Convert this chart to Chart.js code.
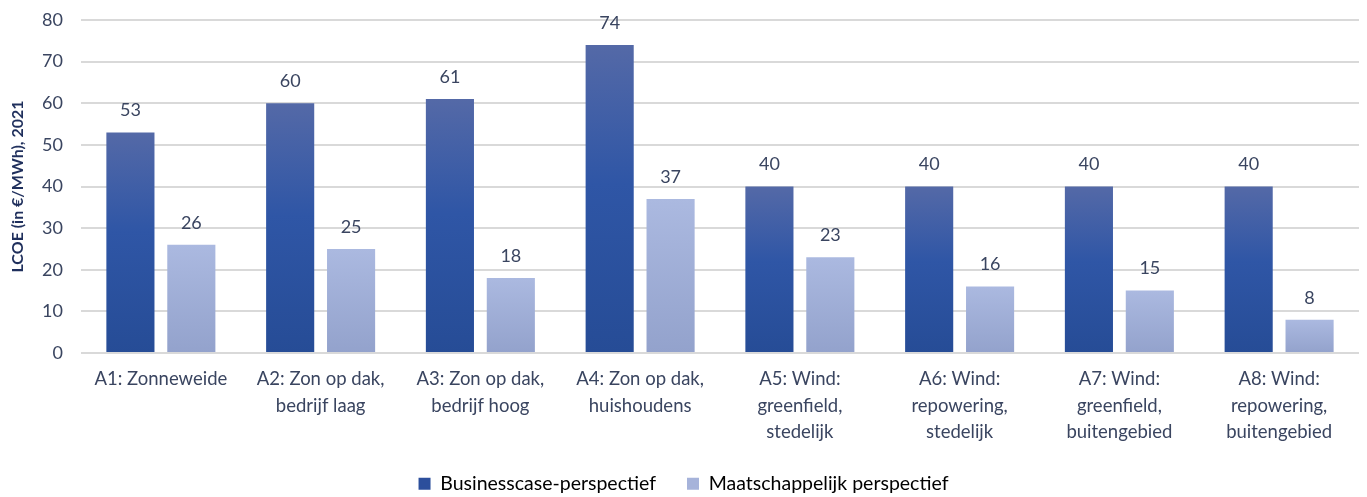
<!DOCTYPE html>
<html>
<head>
<meta charset="utf-8">
<script src="https://cdn.jsdelivr.net/npm/chart.js@4"></script>
<style>
  html, body { margin: 0; padding: 0; background: #fff; }
  #lcoe { display: block; }
</style>
</head>
<body>
<canvas id="lcoe" width="1367" height="497"></canvas>
<script>
const categories = [
  'A1: Zonneweide',
  ['A2: Zon op dak,', 'bedrijf laag'],
  ['A3: Zon op dak,', 'bedrijf hoog'],
  ['A4: Zon op dak,', 'huishoudens'],
  ['A5: Wind:', 'greenfield,', 'stedelijk'],
  ['A6: Wind:', 'repowering,', 'stedelijk'],
  ['A7: Wind:', 'greenfield,', 'buitengebied'],
  ['A8: Wind:', 'repowering,', 'buitengebied']
];
const businesscase = [53, 60, 61, 74, 40, 40, 40, 40];
const maatschappelijk = [26, 25, 18, 37, 23, 16, 15, 8];
const yTicks = [0, 10, 20, 30, 40, 50, 60, 70, 80];

const textColor = '#3a4560';
const fontFamily = 'Lato, "Open Sans", sans-serif';

// vertical gradient per bar, from the bar's top down to zero
function barGradient(stops) {
  return function (ctx) {
    const chart = ctx.chart;
    if (!chart.chartArea || ctx.type !== 'data') return stops[stops.length - 1][1];
    const y = chart.scales.y;
    const top = y.getPixelForValue(ctx.raw);
    const bottom = y.getPixelForValue(0);
    const g = chart.ctx.createLinearGradient(0, top, 0, bottom);
    stops.forEach(s => g.addColorStop(s[0], s[1]));
    return g;
  };
}

// value labels above the bars
const valueLabels = {
  id: 'valueLabels',
  afterDatasetsDraw(chart) {
    const c = chart.ctx;
    c.save();
    c.font = '18px ' + fontFamily;
    c.fillStyle = textColor;
    c.textAlign = 'center';
    c.textBaseline = 'bottom';
    chart.data.datasets.forEach((ds, i) => {
      chart.getDatasetMeta(i).data.forEach((bar, j) => {
        c.fillText(ds.data[j], bar.x, bar.y - 13);
      });
    });
    c.restore();
  }
};

// wide gaps between legend items, but a short legend box that sits
// just under the three-line category labels
const legendBox = {
  id: 'legendBox',
  beforeInit(chart) {
    const fit = chart.legend.fit;
    chart.legend.fit = function () {
      fit.call(this);
      this.height = 44;
    };
  },
  afterLayout(chart) {
    chart.legend.top = 443;
  }
};

new Chart(document.getElementById('lcoe'), {
  type: 'bar',
  data: {
    labels: categories,
    datasets: [{
      label: 'Businesscase-perspectief',
      data: businesscase,
      legendColor: '#2c4f9c',
      backgroundColor: barGradient([[0, '#5469a7'], [0.45, '#2f56a6'], [1, '#264c96']]),
      categoryPercentage: 0.7625,
      barPercentage: 0.79
    }, {
      label: 'Maatschappelijk perspectief',
      data: maatschappelijk,
      legendColor: '#a6b3da',
      backgroundColor: barGradient([[0, '#abb9e0'], [1, '#93a2cc']]),
      categoryPercentage: 0.7625,
      barPercentage: 0.79
    }]
  },
  options: {
    responsive: false,
    animation: false,
    layout: { padding: { top: 20, right: 8, left: 8, bottom: 0 } },
    plugins: {
      tooltip: { enabled: false },
      legend: {
        position: 'bottom',
        labels: {
          color: textColor,
          font: { family: fontFamily, size: 19.5 },
          boxWidth: 12,
          boxHeight: 12,
          padding: 31,
          generateLabels(chart) {
            return chart.data.datasets.map((ds, i) => ({
              text: ds.label,
              fillStyle: ds.legendColor,
              strokeStyle: ds.legendColor,
              lineWidth: 0,
              datasetIndex: i
            }));
          }
        }
      }
    },
    scales: {
      x: {
        grid: { display: false, drawTicks: false },
        border: { display: false },
        ticks: {
          color: textColor,
          font: { family: fontFamily, size: 18.5, lineHeight: 1.43 },
          padding: 13,
          maxRotation: 0,
          autoSkip: false
        },
        afterFit(scale) { scale.height = 100; }
      },
      y: {
        min: 0,
        max: 80,
        afterBuildTicks(scale) { scale.ticks = yTicks.map(v => ({ value: v })); },
        grid: { color: '#d9d9d9', lineWidth: 2, drawTicks: false },
        border: { display: false },
        ticks: {
          color: textColor,
          font: { family: fontFamily, size: 18 },
          padding: 18
        },
        title: {
          display: true,
          text: 'LCOE (in €/MWh), 2021',
          color: '#1f2f5c',
          font: { family: fontFamily, size: 16, weight: 'bold' },
          padding: 0
        },
        afterFit(scale) {
          scale.width = 73;
          scale.paddingTop = 0;
        }
      }
    }
  },
  plugins: [valueLabels, legendBox]
});
</script>
</body>
</html>
